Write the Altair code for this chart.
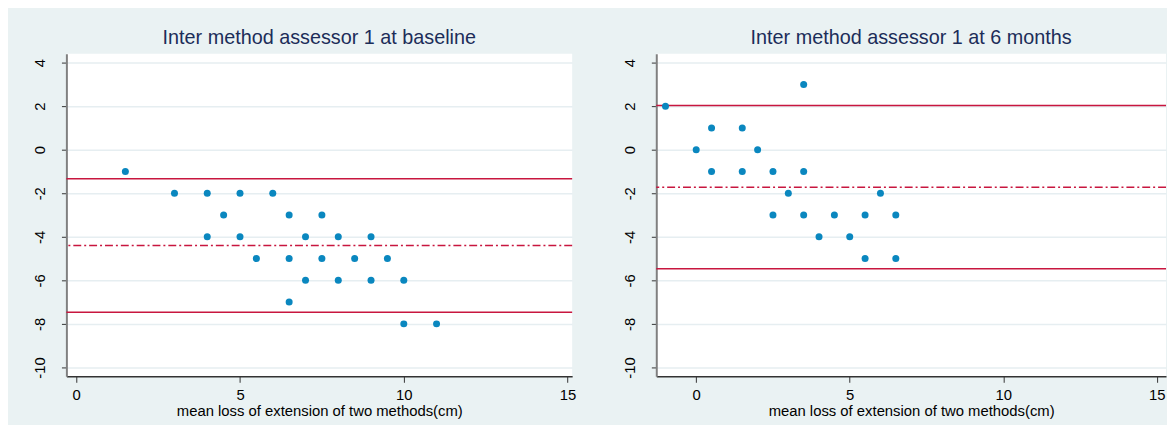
import altair as alt
import pandas as pd

# ---- data ----
left_title = "Inter method assessor 1 at baseline"
right_title = "Inter method assessor 1 at 6 months"
x_title = "mean loss of extension of two methods(cm)"

left_x = [1.5, 3, 4, 5, 6, 4.5, 6.5, 7.5, 4, 5, 7, 8, 9, 5.5, 6.5, 7.5, 8.5, 9.5,
          7, 8, 9, 10, 6.5, 10, 11]
left_y = [-1, -2, -2, -2, -2, -3, -3, -3, -4, -4, -4, -4, -4, -5, -5, -5, -5, -5,
          -6, -6, -6, -6, -7, -8, -8]
left_mean = -4.4
left_upper = -1.33
left_lower = -7.47

right_x = [-1, 3.5, 0.5, 1.5, 0, 2, 0.5, 1.5, 2.5, 3.5, 3, 6, 2.5, 3.5, 4.5, 5.5, 6.5,
           4, 5, 5.5, 6.5]
right_y = [2, 3, 1, 1, 0, 0, -1, -1, -1, -1, -2, -2, -3, -3, -3, -3, -3,
           -4, -4, -5, -5]
right_mean = -1.72
right_upper = 2.03
right_lower = -5.47

x_ticks = [0, 5, 10, 15]
y_ticks = [-10, -8, -6, -4, -2, 0, 2, 4]
left_xdomain = [-0.3, 15.14]
right_xdomain = [-1.3, 15.3]
y_domain = [-10.41, 4.41]

FONT = "Liberation Sans"
PT_COLOR = "#0A87BF"
LINE_COLOR = "#C8163F"
W, H = 511, 326
LABEL_EXPR = "'' + datum.value"


def panel(xs, ys, mean, upper, lower, xdomain, title, width):
    pts = pd.DataFrame({"x": xs, "y": ys})
    loa = pd.DataFrame({"y": [upper, lower]})
    mn = pd.DataFrame({"y": [mean]})

    xscale = alt.Scale(domain=xdomain, nice=False, zero=False)
    yscale = alt.Scale(domain=y_domain, nice=False, zero=False)

    xaxis = alt.Axis(values=x_ticks, title=x_title, grid=False, labelFlush=False,
                     labelExpr=LABEL_EXPR,
                     domainColor="#333333", domainWidth=1.5, tickColor="#333333",
                     tickSize=6, labelPadding=5, titlePadding=2)
    yaxis = alt.Axis(values=y_ticks, title=None, grid=True, gridColor="#E6EEF1",
                     gridWidth=1.5, labelAngle=270, labelAlign="center",
                     labelBaseline="bottom", labelExpr=LABEL_EXPR,
                     domainColor="#808080", domainWidth=2,
                     tickColor="#333333", tickSize=5, labelPadding=14,
                     minExtent=54, maxExtent=54)

    points = alt.Chart(pts).mark_circle(size=50, color=PT_COLOR, opacity=1).encode(
        x=alt.X("x:Q", scale=xscale, axis=xaxis),
        y=alt.Y("y:Q", scale=yscale, axis=yaxis),
    )
    loa_rules = alt.Chart(loa).mark_rule(color=LINE_COLOR, strokeWidth=1.5).encode(
        y=alt.Y("y:Q", scale=yscale)
    )
    mean_rule = alt.Chart(mn).mark_rule(color=LINE_COLOR, strokeWidth=1.5,
                                        strokeDash=[8, 3, 2, 3]).encode(
        y=alt.Y("y:Q", scale=yscale)
    )
    return alt.layer(loa_rules, mean_rule, points).properties(
        width=width, height=H,
        title=alt.TitleParams(title, anchor="middle", fontSize=20, font=FONT,
                              fontWeight="normal", color="#1C2D59", offset=6),
    )


left = panel(left_x, left_y, left_mean, left_upper, left_lower, left_xdomain,
             left_title, W)
right = panel(right_x, right_y, right_mean, right_upper, right_lower, right_xdomain,
              right_title, W + 4)

chart = alt.hconcat(left, right, spacing=27).properties(
    background="#EAF2F3",
    padding={"left": 5, "top": 18, "right": 0, "bottom": 4},
).configure_view(
    fill="white", stroke=None
).configure_axis(
    labelFont=FONT, titleFont=FONT, labelFontSize=15, titleFontSize=15,
    labelColor="#000000", titleColor="#000000", titleFontWeight="normal",
)

chart.save("out.html", embed_options={"renderer": "svg", "actions": False})
